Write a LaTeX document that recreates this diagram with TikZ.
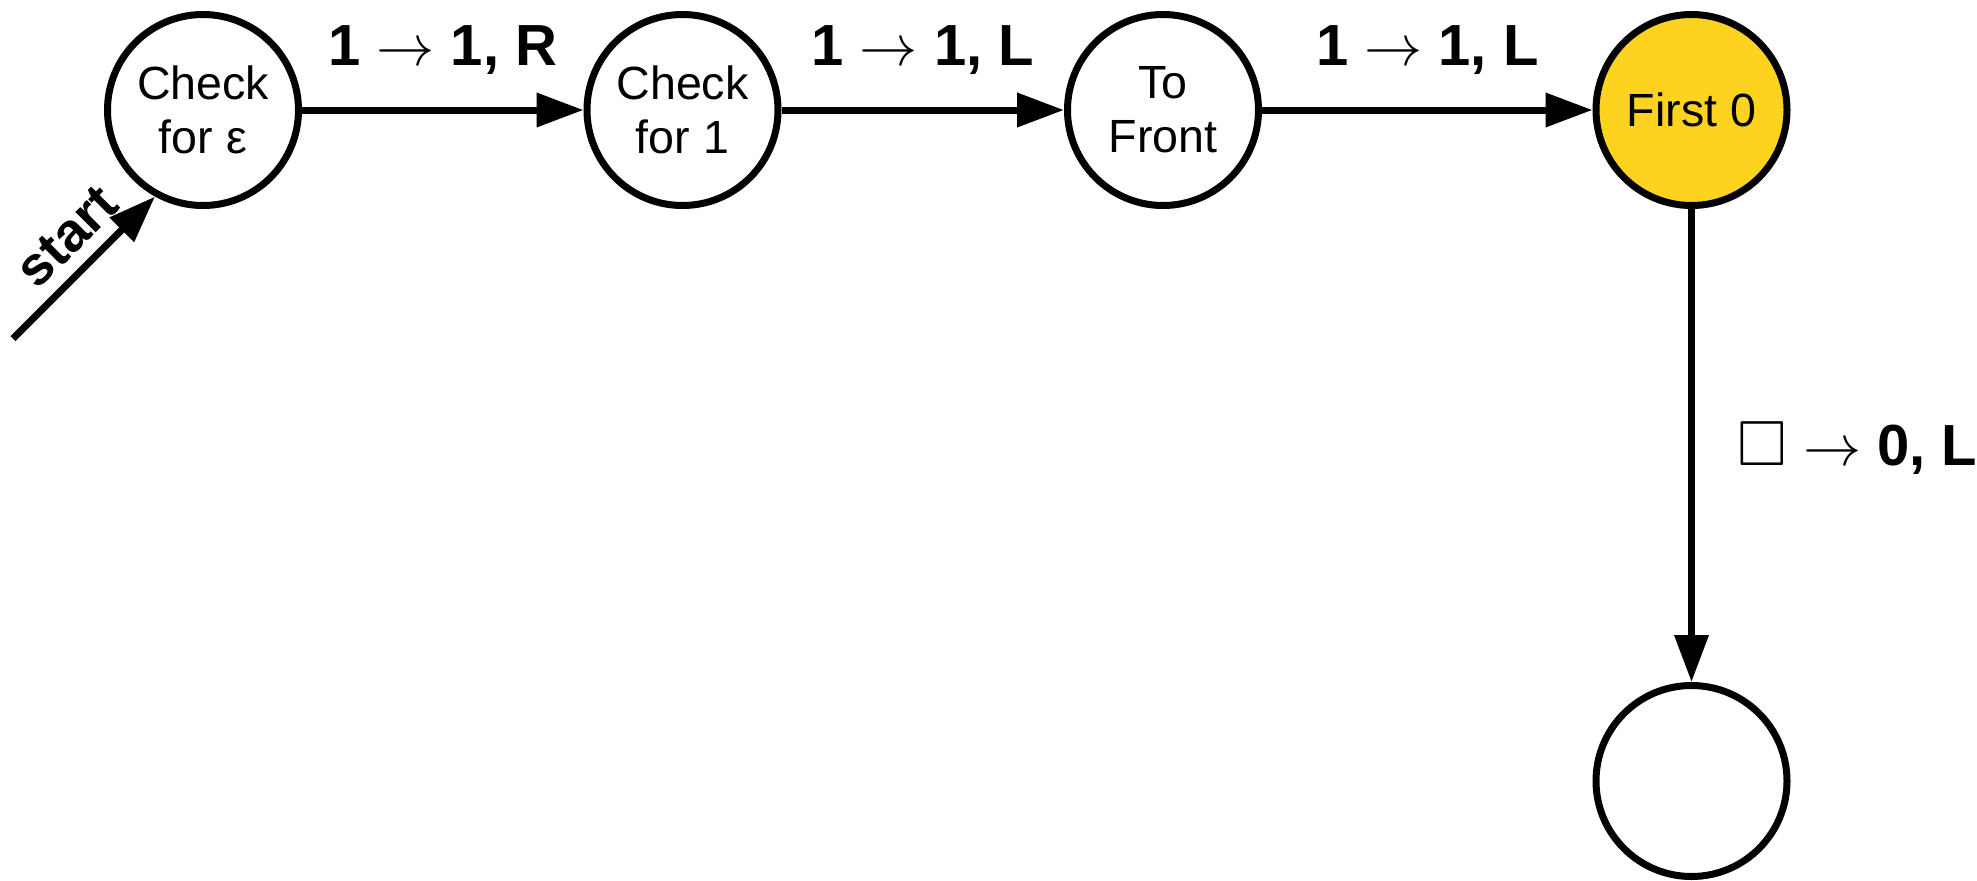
\documentclass[tikz,border=0pt]{standalone}
\usepackage{amssymb}
\usepackage{graphicx}
\usepackage{fontspec}
\setmainfont{Liberation Sans}
\usetikzlibrary{arrows.meta,calc}
\definecolor{ink}{HTML}{000000}
\definecolor{gold}{HTML}{FDD31F}
\newcommand{\bigsym}[2][1.33]{\scalebox{#1}{$#2$}}

\begin{document}
\begin{tikzpicture}[line cap=butt,line join=round,
  state/.style={circle,draw=ink,line width=0.14cm,minimum size=3.82cm,inner sep=0pt,
    fill=white,align=center,font=\fontsize{26.5}{30.6}\selectfont},
  edge/.style={ink,line width=0.14cm,-{Triangle[length=0.94cm,width=0.66cm]}},
  lbl/.style={inner sep=0pt,font=\fontsize{33}{40}\selectfont\bfseries}]
  \useasboundingbox (0,0) rectangle (39.54,-17.6);

  % states
  \node[state] (chkeps) at (4.06,-2.2) {Check\\for ε};
  \node[state] (chkone) at (13.65,-2.2) {Check\\for 1};
  \node[state] (front) at (23.26,-2.2) {To\\Front};
  \node[state,fill=gold] (first) at (33.83,-2.2) {First 0};
  \node[state] (next) at (33.83,-15.62) {};

  % start arrow
  \coordinate (init) at ($(chkeps.241)+(-2.84,-2.84)$);
  \draw[edge] (init) -- (chkeps.241)
    node[pos=0.55,sloped,above=7pt,inner sep=0pt,font=\fontsize{31}{36}\selectfont\bfseries] {start};

  % transitions
  \draw[edge] (chkeps) -- (chkone)
    node[lbl,midway,anchor=base,yshift=0.9cm] {1 \bigsym{\rightarrow} 1, R};
  \draw[edge] (chkone) -- (front)
    node[lbl,midway,anchor=base,yshift=0.9cm] {1 \bigsym{\rightarrow} 1, L};
  \draw[edge] (front) -- (first)
    node[lbl,midway,anchor=base,yshift=0.9cm] {1 \bigsym{\rightarrow} 1, L};
  \draw[edge] (first) -- (next)
    node[lbl,midway,anchor=base west,xshift=0.85cm,yshift=-0.4cm] {\bigsym[1.1]{\square} \bigsym{\rightarrow} 0, L};
\end{tikzpicture}
\end{document}
